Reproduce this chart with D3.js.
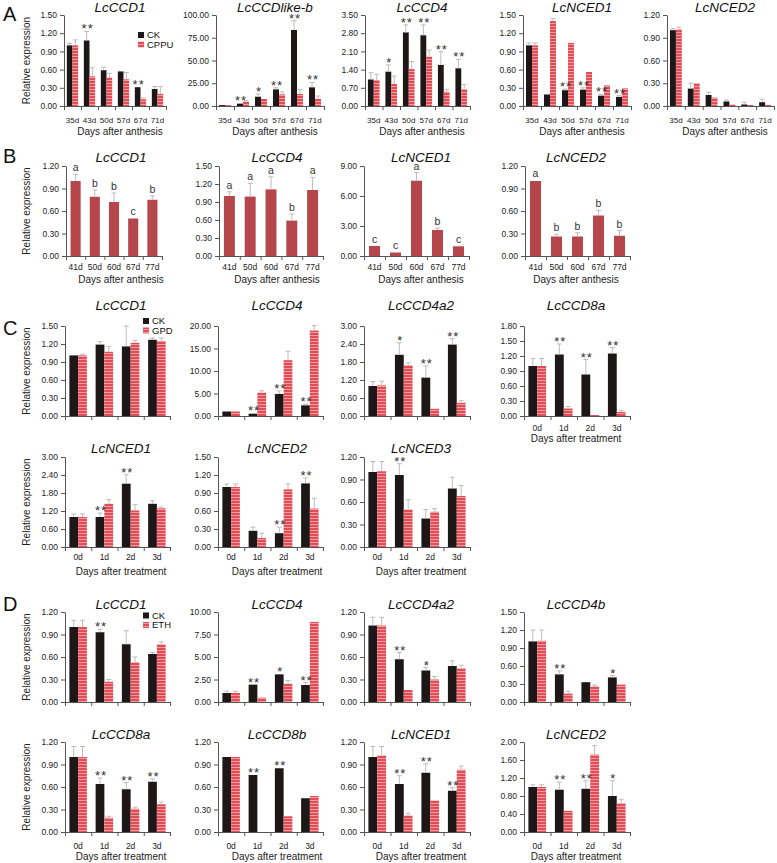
<!DOCTYPE html>
<html><head><meta charset="utf-8">
<script src="https://cdn.jsdelivr.net/npm/d3@7"></script>
<style>
body{margin:0;background:#fff}
text{font-family:"Liberation Sans",Arial,sans-serif}
</style>
</head><body>
<svg id="c" width="777" height="863"></svg>
<script>
// ---------- categories ----------
const catA = ["35d","43d","50d","57d","67d","71d"];
const catB = ["41d","50d","60d","67d","77d"];
const catT = ["0d","1d","2d","3d"];

// ---------- Panel A (CK vs CPPU) ----------
const aCCD1Ck = [1.00,1.08,0.59,0.57,0.31,0.28], aCCD1CkErr = [0.03,0.15,0.05,0.01,0.01,0.04];
const aCCD1Tr = [1.00,0.49,0.47,0.44,0.11,0.20], aCCD1TrErr = [0.09,0.14,0.07,0.11,0.02,0.12];
const aCCD1Sig = ["","**","","","**",""];

const aLikeCk = [1.0,2.6,10.2,18.3,83.5,20.5], aLikeCkErr = [0.3,0.5,3.0,1.7,10.3,5.5];
const aLikeTr = [1.0,4.8,7.7,12.8,13.2,8.0], aLikeTrErr = [0.3,1.1,0.5,2.6,5.1,3.0];
const aLikeSig = ["","**","*","**","**","**"];

const aCCD4Ck = [1.02,1.32,2.83,2.72,1.58,1.45], aCCD4CkErr = [0.26,0.26,0.29,0.40,0.51,0.34];
const aCCD4Tr = [1.00,0.85,1.42,1.90,0.55,0.65], aCCD4TrErr = [0.22,0.30,0.29,0.25,0.09,0.18];
const aCCD4Sig = ["","*","**","**","**","**"];

const aNCED1Ck = [1.00,0.19,0.26,0.27,0.17,0.15], aNCED1CkErr = [0.04,0.0,0.02,0.03,0.02,0.02];
const aNCED1Tr = [1.00,1.40,1.04,0.56,0.34,0.29], aNCED1TrErr = [0.04,0.04,0.01,0.01,0.0,0.01];
const aNCED1Sig = ["","","**","**","**","**"];

const aNCED2Ck = [1.00,0.23,0.145,0.06,0.02,0.05], aNCED2CkErr = [0.02,0.07,0.035,0.02,0.03,0.04];
const aNCED2Tr = [1.01,0.30,0.11,0.02,0.015,0.015], aNCED2TrErr = [0.03,0.01,0.01,0.0,0.0,0.0];
const aNCED2Sig = ["","","","","",""];

// ---------- Panel B (single series with letters) ----------
const bCCD1 = [1.00,0.79,0.72,0.50,0.75], bCCD1Err = [0.09,0.09,0.12,0.01,0.05], bCCD1Let = ["a","b","b","c","b"];
const bCCD4 = [1.00,0.99,1.11,0.59,1.10], bCCD4Err = [0.07,0.22,0.21,0.11,0.21], bCCD4Let = ["a","a","a","b","a"];
const bNCED1 = [1.0,0.35,7.53,2.6,0.97], bNCED1Err = [0.02,0.02,0.8,0.2,0.03], bNCED1Let = ["c","c","a","b","c"];
const bNCED2 = [1.00,0.26,0.26,0.54,0.27], bNCED2Err = [0.01,0.03,0.05,0.07,0.07], bNCED2Let = ["a","b","b","b","b"];

// ---------- Panel C (CK vs GPD) ----------
const cCCD1Ck = [1.01,1.19,1.16,1.27], cCCD1CkErr = [0.01,0.05,0.34,0.03];
const cCCD1Tr = [1.01,1.07,1.22,1.25], cCCD1TrErr = [0.02,0.09,0.04,0.05];
const cCCD1Sig = ["","","",""];
const cCCD4Ck = [1.0,0.52,4.9,2.37], cCCD4CkErr = [0.05,0.05,0.7,0.25];
const cCCD4Tr = [1.0,5.2,12.4,19.0], cCCD4TrErr = [0.05,0.4,2.0,1.1];
const cCCD4Sig = ["","**","**","**"];
const cCCD4a2Ck = [1.0,2.04,1.28,2.38], cCCD4a2CkErr = [0.15,0.40,0.39,0.20];
const cCCD4a2Tr = [1.02,1.69,0.24,0.44], cCCD4a2TrErr = [0.14,0.08,0.01,0.07];
const cCCD4a2Sig = ["","*","**","**"];
const cCCD8aCk = [1.0,1.23,0.83,1.25], cCCD8aCkErr = [0.15,0.21,0.30,0.12];
const cCCD8aTr = [1.0,0.15,0.02,0.08], cCCD8aTrErr = [0.15,0.04,0.0,0.03];
const cCCD8aSig = ["","**","**","**"];
const cNCED1Ck = [1.0,1.0,2.11,1.44], cNCED1CkErr = [0.10,0.13,0.30,0.10];
const cNCED1Tr = [1.0,1.44,1.22,1.29], cNCED1TrErr = [0.10,0.14,0.19,0.04];
const cNCED1Sig = ["","**","**",""];
const cNCED2Ck = [1.0,0.27,0.23,1.06], cNCED2CkErr = [0.05,0.06,0.10,0.09];
const cNCED2Tr = [1.0,0.15,0.96,0.64], cNCED2TrErr = [0.05,0.08,0.09,0.17];
const cNCED2Sig = ["","","**","**"];
const cNCED3Ck = [1.0,0.96,0.38,0.78], cNCED3CkErr = [0.14,0.15,0.12,0.15];
const cNCED3Tr = [1.01,0.50,0.47,0.68], cNCED3TrErr = [0.13,0.13,0.04,0.14];
const cNCED3Sig = ["","**","",""];

// ---------- Panel D (CK vs ETH) ----------
const dCCD1Ck = [1.0,0.93,0.77,0.64], dCCD1CkErr = [0.09,0.04,0.18,0.02];
const dCCD1Tr = [1.0,0.27,0.53,0.77], dCCD1TrErr = [0.09,0.03,0.07,0.03];
const dCCD1Sig = ["","**","",""];
const dCCD4Ck = [1.0,1.93,3.07,1.89], dCCD4CkErr = [0.2,0.0,0.0,0.26];
const dCCD4Tr = [1.0,0.48,2.04,8.9], dCCD4TrErr = [0.2,0.0,0.36,0.0];
const dCCD4Sig = ["","**","*","**"];
const dCCD4a2Ck = [1.02,0.57,0.42,0.48], dCCD4a2CkErr = [0.11,0.09,0.04,0.07];
const dCCD4a2Tr = [1.02,0.16,0.30,0.45], dCCD4a2TrErr = [0.11,0.0,0.04,0.04];
const dCCD4a2Sig = ["","**","*",""];
const dCCD4bCk = [1.01,0.46,0.33,0.41], dCCD4bCkErr = [0.19,0.06,0.0,0.03];
const dCCD4bTr = [1.02,0.14,0.26,0.29], dCCD4bTrErr = [0.18,0.04,0.02,0.0];
const dCCD4bSig = ["","**","","*"];
const dCCD8aCk = [1.0,0.64,0.57,0.67], dCCD8aCkErr = [0.14,0.08,0.09,0.04];
const dCCD8aTr = [1.0,0.19,0.31,0.37], dCCD8aTrErr = [0.14,0.02,0.02,0.03];
const dCCD8aSig = ["","**","**","**"];
const dCCD8bCk = [1.0,0.76,0.85,0.45], dCCD8bCkErr = [0,0,0,0];
const dCCD8bTr = [1.0,0.0,0.21,0.48], dCCD8bTrErr = [0,0,0.01,0];
const dCCD8bSig = ["","**","**",""];
const dNCED1Ck = [1.0,0.64,0.79,0.55], dNCED1CkErr = [0.14,0.11,0.12,0.04];
const dNCED1Tr = [1.02,0.22,0.42,0.83], dNCED1TrErr = [0.12,0.03,0.01,0.05];
const dNCED1Sig = ["","**","**","**"];
const dNCED2Ck = [1.0,0.94,0.96,0.80], dNCED2CkErr = [0.05,0.17,0.18,0.34];
const dNCED2Tr = [1.0,0.47,1.72,0.64], dNCED2TrErr = [0.05,0.01,0.20,0.08];
const dNCED2Sig = ["","**","**","*"];

// ---------- layout ----------
const col4 = [[65,170],[218,323],[364,470],[524,630]];
const tx4 = [121,277,421,576];
const rows = {
  A:{top:15,bot:106,title:12,xlab:122.5,xtitle:134.5,xt:"Days after anthesis",cols:[[64,166],[216,324],[365,470],[523,631],[667,774]],tx:[120,275,422,582,725],letter:"A",ly:21,lab:8},
  B:{top:166,bot:256,title:161.5,xlab:270,xtitle:283,xt:"Days after anthesis",cols:[[66,162],[219,323],[364,469],[525,630]],tx:tx4,letter:"B",ly:163,lab:8.5},
  C1:{top:326,bot:416,title:310,xlab:431,xtitle:441.5,xt:"Days after treatment",cols:col4,tx:tx4,letter:"C",ly:335,lab:8.5},
  C2:{top:457,bot:547,title:453,xlab:560,xtitle:575,xt:"Days after treatment",cols:col4,tx:tx4,lab:8.5},
  D1:{top:612,bot:702,title:609,cols:col4,tx:tx4,letter:"D",ly:611,lab:8.5},
  D2:{top:742,bot:832,title:739,xlab:849,xtitle:860,xt:"Days after treatment",cols:col4,tx:tx4,lab:8.5}
};

const charts = [
  {row:"A",col:0,title:"LcCCD1",cats:catA,ymax:1.5,step:0.3,ck:aCCD1Ck,ckE:aCCD1CkErr,tr:aCCD1Tr,trE:aCCD1TrErr,sig:aCCD1Sig,xl:true,legend:["CK","CPPU"]},
  {row:"A",col:1,title:"LcCCDlike-b",cats:catA,ymax:100,step:25,ck:aLikeCk,ckE:aLikeCkErr,tr:aLikeTr,trE:aLikeTrErr,sig:aLikeSig,xl:true},
  {row:"A",col:2,title:"LcCCD4",cats:catA,ymax:3.5,step:0.7,ck:aCCD4Ck,ckE:aCCD4CkErr,tr:aCCD4Tr,trE:aCCD4TrErr,sig:aCCD4Sig,xl:true},
  {row:"A",col:3,title:"LcNCED1",cats:catA,ymax:1.5,step:0.3,ck:aNCED1Ck,ckE:aNCED1CkErr,tr:aNCED1Tr,trE:aNCED1TrErr,sig:aNCED1Sig,xl:true},
  {row:"A",col:4,title:"LcNCED2",cats:catA,ymax:1.2,step:0.3,ck:aNCED2Ck,ckE:aNCED2CkErr,tr:aNCED2Tr,trE:aNCED2TrErr,sig:aNCED2Sig,xl:true},

  {row:"B",col:0,title:"LcCCD1",cats:catB,ymax:1.2,step:0.3,v:bCCD1,vE:bCCD1Err,let:bCCD1Let,xl:true},
  {row:"B",col:1,title:"LcCCD4",cats:catB,ymax:1.5,step:0.3,v:bCCD4,vE:bCCD4Err,let:bCCD4Let,xl:true},
  {row:"B",col:2,title:"LcNCED1",cats:catB,ymax:9,step:3,v:bNCED1,vE:bNCED1Err,let:bNCED1Let,xl:true},
  {row:"B",col:3,title:"LcNCED2",cats:catB,ymax:1.2,step:0.3,v:bNCED2,vE:bNCED2Err,let:bNCED2Let,xl:true},

  {row:"C1",col:0,title:"LcCCD1",cats:catT,ymax:1.5,step:0.3,ck:cCCD1Ck,ckE:cCCD1CkErr,tr:cCCD1Tr,trE:cCCD1TrErr,sig:cCCD1Sig,legend:["CK","GPD"]},
  {row:"C1",col:1,title:"LcCCD4",cats:catT,ymax:20,step:5,ck:cCCD4Ck,ckE:cCCD4CkErr,tr:cCCD4Tr,trE:cCCD4TrErr,sig:cCCD4Sig},
  {row:"C1",col:2,title:"LcCCD4a2",cats:catT,ymax:3,step:0.6,ck:cCCD4a2Ck,ckE:cCCD4a2CkErr,tr:cCCD4a2Tr,trE:cCCD4a2TrErr,sig:cCCD4a2Sig},
  {row:"C1",col:3,title:"LcCCD8a",cats:catT,ymax:1.8,step:0.3,ck:cCCD8aCk,ckE:cCCD8aCkErr,tr:cCCD8aTr,trE:cCCD8aTrErr,sig:cCCD8aSig,xl:true},
  {row:"C2",col:0,title:"LcNCED1",cats:catT,ymax:3,step:0.6,ck:cNCED1Ck,ckE:cNCED1CkErr,tr:cNCED1Tr,trE:cNCED1TrErr,sig:cNCED1Sig,xl:true},
  {row:"C2",col:1,title:"LcNCED2",cats:catT,ymax:1.5,step:0.3,ck:cNCED2Ck,ckE:cNCED2CkErr,tr:cNCED2Tr,trE:cNCED2TrErr,sig:cNCED2Sig,xl:true},
  {row:"C2",col:2,title:"LcNCED3",cats:catT,ymax:1.2,step:0.3,ck:cNCED3Ck,ckE:cNCED3CkErr,tr:cNCED3Tr,trE:cNCED3TrErr,sig:cNCED3Sig,xl:true},

  {row:"D1",col:0,title:"LcCCD1",cats:catT,ymax:1.2,step:0.3,ck:dCCD1Ck,ckE:dCCD1CkErr,tr:dCCD1Tr,trE:dCCD1TrErr,sig:dCCD1Sig,legend:["CK","ETH"]},
  {row:"D1",col:1,title:"LcCCD4",cats:catT,ymax:10,step:2.5,ck:dCCD4Ck,ckE:dCCD4CkErr,tr:dCCD4Tr,trE:dCCD4TrErr,sig:dCCD4Sig},
  {row:"D1",col:2,title:"LcCCD4a2",cats:catT,ymax:1.2,step:0.3,ck:dCCD4a2Ck,ckE:dCCD4a2CkErr,tr:dCCD4a2Tr,trE:dCCD4a2TrErr,sig:dCCD4a2Sig},
  {row:"D1",col:3,title:"LcCCD4b",cats:catT,ymax:1.5,step:0.3,ck:dCCD4bCk,ckE:dCCD4bCkErr,tr:dCCD4bTr,trE:dCCD4bTrErr,sig:dCCD4bSig},
  {row:"D2",col:0,title:"LcCCD8a",cats:catT,ymax:1.2,step:0.3,ck:dCCD8aCk,ckE:dCCD8aCkErr,tr:dCCD8aTr,trE:dCCD8aTrErr,sig:dCCD8aSig,xl:true},
  {row:"D2",col:1,title:"LcCCD8b",cats:catT,ymax:1.2,step:0.3,ck:dCCD8bCk,ckE:dCCD8bCkErr,tr:dCCD8bTr,trE:dCCD8bTrErr,sig:dCCD8bSig,xl:true},
  {row:"D2",col:2,title:"LcNCED1",cats:catT,ymax:1.2,step:0.3,ck:dNCED1Ck,ckE:dNCED1CkErr,tr:dNCED1Tr,trE:dNCED1TrErr,sig:dNCED1Sig,xl:true},
  {row:"D2",col:3,title:"LcNCED2",cats:catT,ymax:2.0,step:0.4,ck:dNCED2Ck,ckE:dNCED2CkErr,tr:dNCED2Tr,trE:dNCED2TrErr,sig:dNCED2Sig,xl:true}
];

// ---------- styles ----------
const CK_COL = "#1d1717", TR_COL = "#df4d57", TR_LINE = "#f49ba1", B_COL = "#b5474c";
const AX_COL = "#555", ERR_COL = "#bcbcbc", TXT = "#222";

const svg = d3.select("#c");
const defs = svg.append("defs");
const pat = defs.append("pattern").attr("id","stripe").attr("patternUnits","userSpaceOnUse").attr("width",4).attr("height",3);
pat.append("rect").attr("width",4).attr("height",3).attr("fill",TR_COL);
pat.append("rect").attr("y",2).attr("width",4).attr("height",1).attr("fill",TR_LINE);

// panel letters and y titles
Object.values(rows).forEach(R=>{
  if(R.letter) svg.append("text").attr("x",3).attr("y",R.ly).attr("font-size",20).attr("fill","#111").text(R.letter);
  svg.append("text").attr("transform",`translate(30,${(R.top+R.bot)/2}) rotate(-90)`)
    .attr("text-anchor","middle").attr("font-size",10).attr("fill",TXT).text("Relative expression");
});

function errBar(g, cx, yv, ye){
  if (Math.abs(yv-ye) < 0.8) return;
  g.append("line").attr("x1",cx).attr("x2",cx).attr("y1",yv).attr("y2",ye).attr("stroke",ERR_COL).attr("stroke-width",1);
  g.append("line").attr("x1",cx-2.5).attr("x2",cx+2.5).attr("y1",ye).attr("y2",ye).attr("stroke",ERR_COL).attr("stroke-width",1);
}

charts.forEach(c=>{
  const R = rows[c.row];
  const [xa,xb] = R.cols[c.col];
  const g = svg.append("g");
  const x = d3.scaleBand().domain(c.cats).range([xa,xb]);
  const y = d3.scaleLinear().domain([0,c.ymax]).range([R.bot,R.top]);
  const ticks = d3.range(0, c.ymax + c.step/2, c.step);

  // y axis
  const ya = g.append("g").attr("transform",`translate(${xa},0)`)
    .call(d3.axisLeft(y).tickValues(ticks).tickFormat(d3.format(".2f")).tickSize(4).tickSizeOuter(0).tickPadding(3));
  // x axis (ticks at category boundaries)
  const bnd = d3.scaleLinear().domain([0,c.cats.length]).range([xa,xb]);
  const xaG = g.append("g").attr("transform",`translate(0,${R.bot})`)
    .call(d3.axisBottom(bnd).tickValues(d3.range(c.cats.length+1)).tickFormat("").tickSize(4).tickSizeOuter(0));
  [ya,xaG].forEach(a=>{
    a.selectAll("path,line").attr("stroke",AX_COL);
    a.selectAll("text").attr("font-size",8.5).attr("fill",TXT).style("font-family","'Liberation Sans',Arial,sans-serif");
  });

  const bw = x.bandwidth();
  if (c.v) {
    const inner = d3.scaleBand().domain(["v"]).range([0,bw]).paddingOuter(0.45);
    c.cats.forEach((k,i)=>{
      const bx = x(k)+inner("v");
      g.append("rect").attr("x",bx).attr("y",y(c.v[i])).attr("width",inner.bandwidth()).attr("height",y(0)-y(c.v[i])).attr("fill",B_COL);
      const cx = bx+inner.bandwidth()/2;
      errBar(g,cx,y(c.v[i]),y(c.v[i]+c.vE[i]));
      g.append("text").attr("x",cx).attr("y",y(c.v[i]+c.vE[i])-3).attr("text-anchor","middle")
        .attr("font-size",10.5).attr("fill","#333").text(c.let[i]);
    });
  } else {
    const inner = d3.scaleBand().domain(["ck","tr"]).range([0,bw]).paddingOuter(0.5).paddingInner(0);
    const iw = inner.bandwidth();
    c.cats.forEach((k,i)=>{
      const x1 = x(k)+inner("ck"), x2 = x(k)+inner("tr");
      g.append("rect").attr("x",x1).attr("y",y(c.ck[i])).attr("width",iw).attr("height",y(0)-y(c.ck[i])).attr("fill",CK_COL);
      g.append("rect").attr("x",x2).attr("y",y(c.tr[i])).attr("width",iw).attr("height",y(0)-y(c.tr[i])).attr("fill","url(#stripe)");
      errBar(g,x1+iw/2,y(c.ck[i]),y(c.ck[i]+c.ckE[i]));
      errBar(g,x2+iw/2,y(c.tr[i]),y(c.tr[i]+c.trE[i]));
      if (c.sig[i]) {
        g.append("text").attr("x",x1+iw/2+1).attr("y",y(c.ck[i]+c.ckE[i])+2).attr("text-anchor","middle")
          .attr("font-size",13).attr("letter-spacing",1).attr("fill","#333").text(c.sig[i]);
      }
    });
  }

  // category labels
  if (c.xl) {
    c.cats.forEach(k=>{
      g.append("text").attr("x",x(k)+bw/2).attr("y",R.xlab).attr("text-anchor","middle")
        .attr("font-size",R.lab).attr("fill",TXT).text(k);
    });
    g.append("text").attr("x",R.tx[c.col]).attr("y",R.xtitle).attr("text-anchor","middle")
      .attr("font-size",10).attr("fill",TXT).text(R.xt);
  }
  // title
  g.append("text").attr("x",R.tx[c.col]).attr("y",R.title).attr("text-anchor","middle")
    .attr("font-size",13.5).attr("font-style","italic").attr("fill","#111").text(c.title);

  // legend
  if (c.legend) {
    const lx = c.row==="A" ? 138 : 143;
    const ly = c.row==="A" ? 32 : (c.row==="C1" ? 318 : 612.5);
    [CK_COL,"url(#stripe)"].forEach((f,j)=>{
      g.append("rect").attr("x",lx).attr("y",ly+j*9.5).attr("width",6).attr("height",6).attr("fill",f);
      g.append("text").attr("x",lx+9).attr("y",ly+j*9.5+6).attr("font-size",9.5).attr("fill","#111").text(c.legend[j]);
    });
  }
});
</script>
</body></html>
